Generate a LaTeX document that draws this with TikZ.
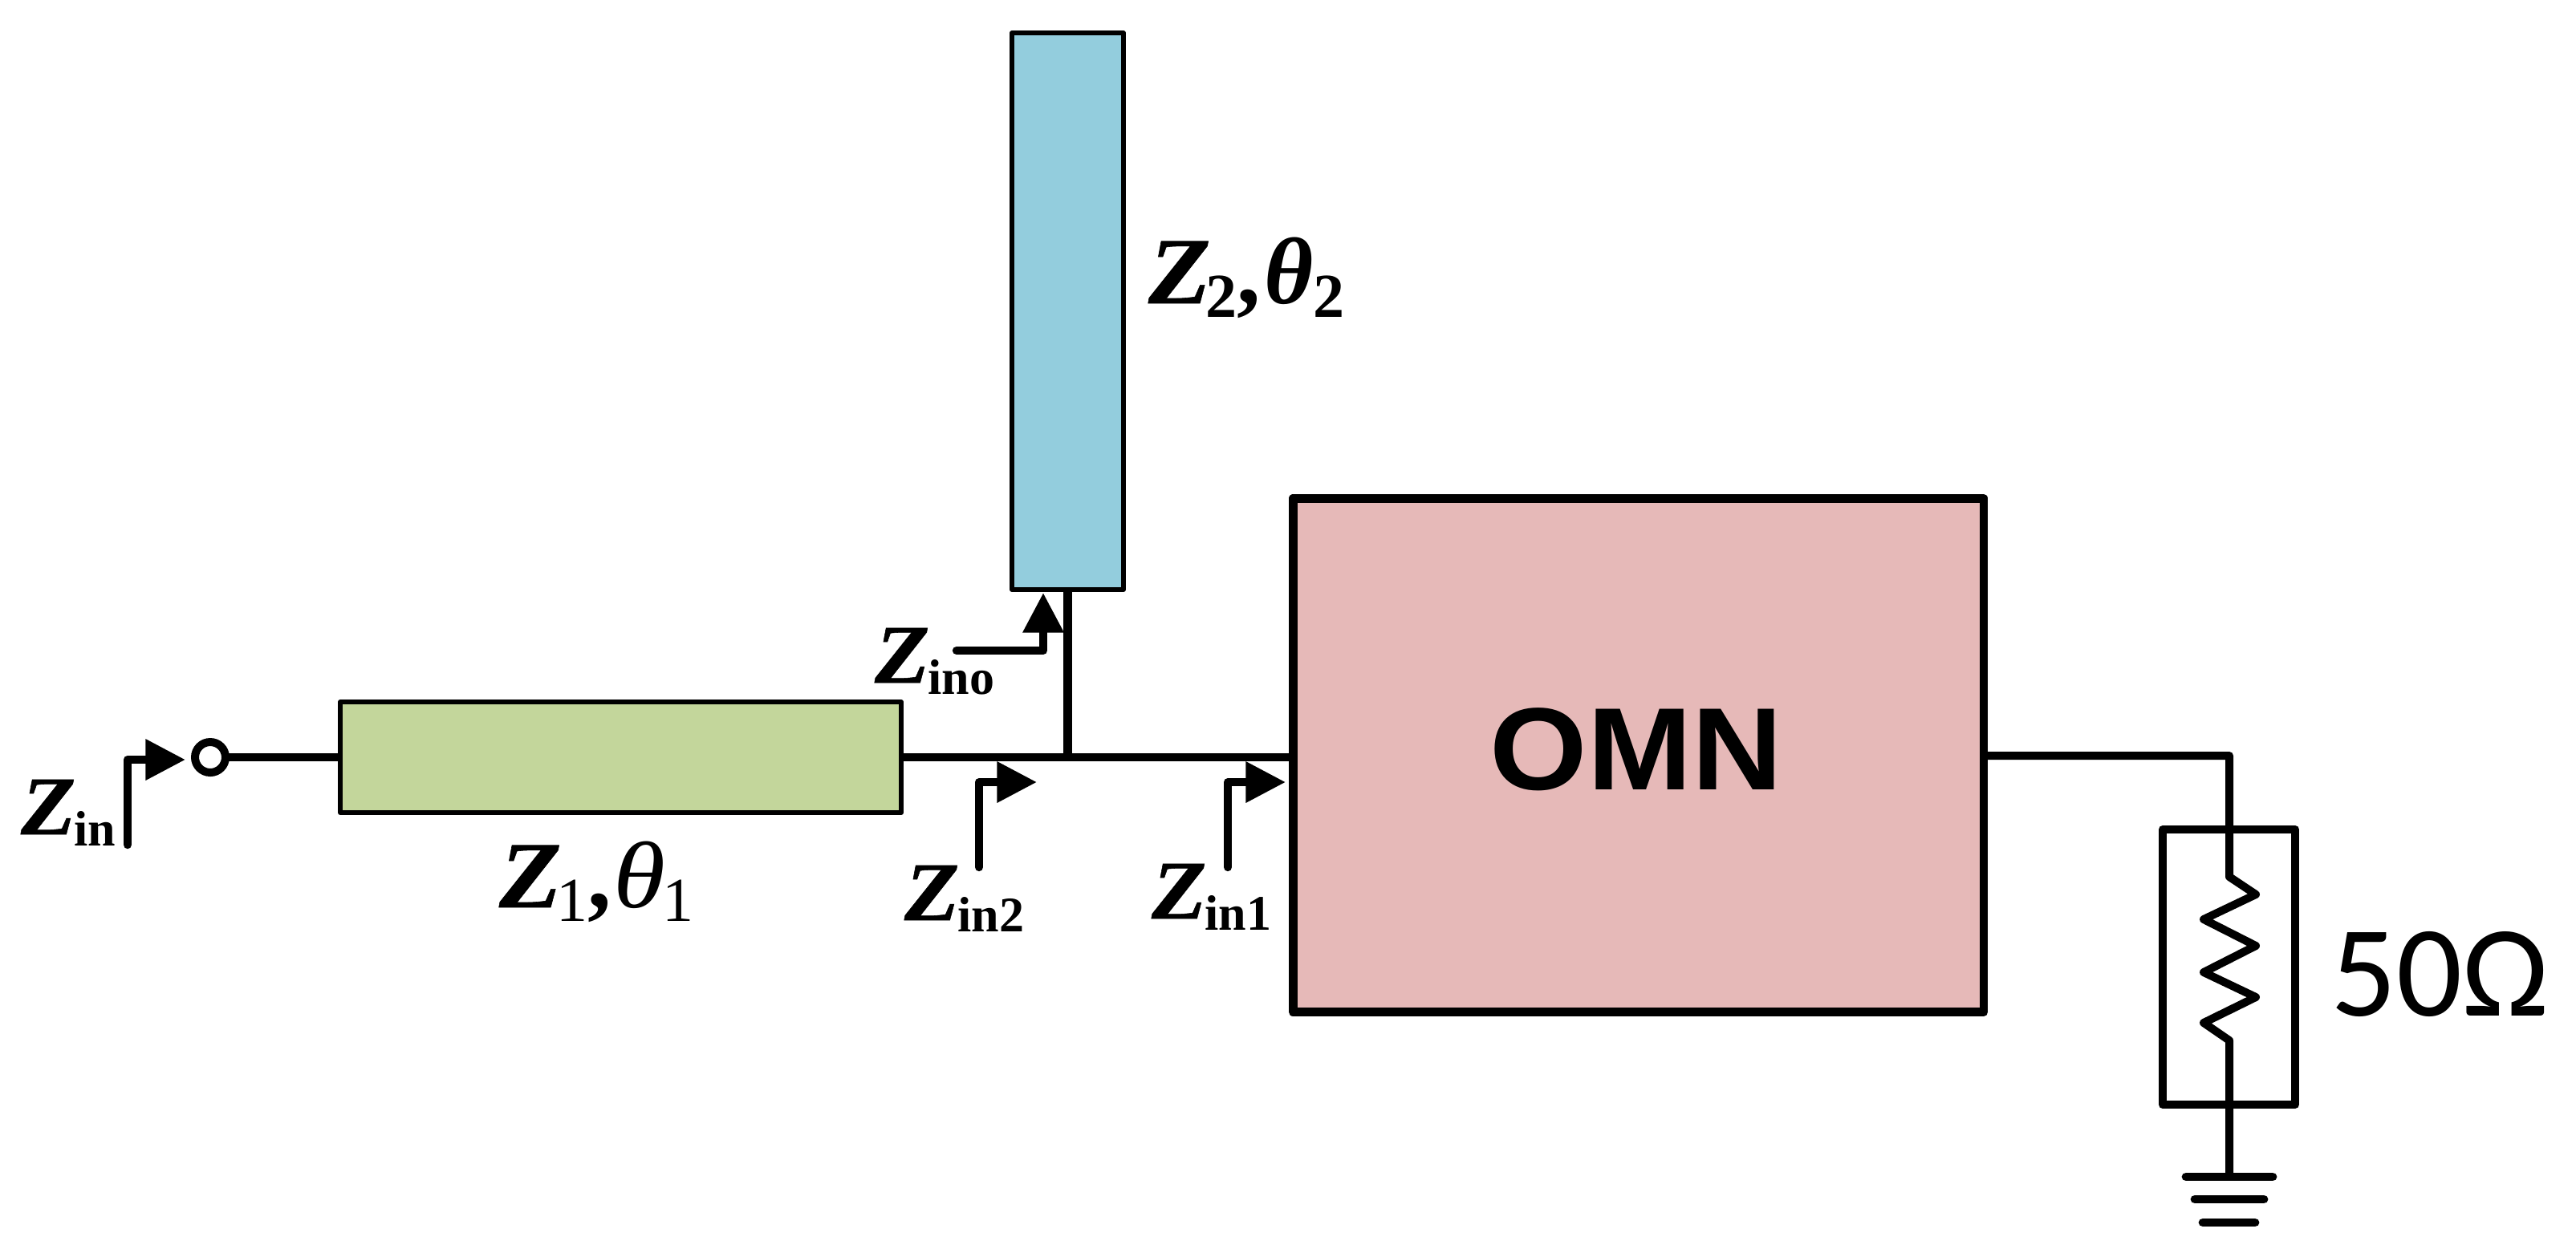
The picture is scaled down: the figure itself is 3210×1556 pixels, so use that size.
\documentclass[tikz,border=0pt]{standalone}
\usepackage{fontspec}
\usetikzlibrary{arrows.meta}
\setmainfont{Liberation Serif}
\newfontfamily\omnfont{Liberation Sans}[FakeStretch=1.07]
\newfontfamily\ohmfont{Carlito}
\newfontfamily\zface{Liberation Serif}[FakeStretch=1.08,FakeBold=0.5]
\newfontfamily\thface{Liberation Serif}[FakeStretch=1.12]
\definecolor{tlgreen}{HTML}{C3D69B}
\definecolor{tlblue}{HTML}{93CDDD}
\definecolor{omnpink}{HTML}{E6B9B8}
% 1 unit = 1 reference pixel = 0.25pt
\newcommand{\zin}[1]{{\zface\fontsize{26}{26}\selectfont\bfseries\itshape Z}\raisebox{-3.5pt}{\fontsize{15.5}{16}\selectfont\bfseries\kern-0.5pt #1}}
\newcommand{\tlineA}[2]{{\zface\bfseries\itshape\fontsize{29.5}{30}\selectfont Z}\kern-1.5pt\raisebox{-4.25pt}{\fontsize{19.5}{19}\selectfont #1}{\bfseries\fontsize{29.5}{30}\selectfont ,}\kern0.5pt{\thface\itshape\fontsize{29.5}{30}\selectfont θ}\kern-1pt\raisebox{-4.25pt}{\fontsize{19.5}{19}\selectfont #2}}
\newcommand{\tlineB}[2]{{\zface\bfseries\itshape\fontsize{29.5}{30}\selectfont Z}\kern-1.5pt\raisebox{-4.25pt}{\fontsize{19.5}{19}\selectfont\bfseries #1}{\bfseries\fontsize{29.5}{30}\selectfont ,}\kern1pt{\bfseries\itshape\fontsize{29.5}{30}\selectfont θ}\raisebox{-4.25pt}{\fontsize{19.5}{19}\selectfont\bfseries #2}}
\tikzset{
  block/.style={draw=black,line width=1.5pt,line join=round,outer sep=0pt,inner sep=0pt},
  wire/.style={draw=black,line width=2.6pt,line join=round},
  thinwire/.style={draw=black,line width=2.5pt,line join=round},
  probe/.style={draw=black,line width=2.6pt,line cap=round,line join=round,-{Triangle[length=12.4pt,width=12.2pt]}},
  lab/.style={anchor=base west,inner sep=0pt,outer sep=0pt},
  bar/.style={draw=black,line width=2.7pt,line cap=round},
}
\begin{document}
\begin{tikzpicture}[x=0.25pt,y=-0.25pt]
\useasboundingbox (0,0) rectangle (3210,1556);
% blocks
\node[block,fill=tlgreen,minimum width=174.75pt,minimum height=34.5pt] (tl1) at (773.5,944) {};
\node[block,fill=tlblue,minimum width=34.75pt,minimum height=173.5pt] (tl2) at (1330.5,388) {};
\node[block,fill=omnpink,line width=2.7pt,minimum width=215.2pt,minimum height=160.05pt] (omn) at (2041.6,941.4) {};
\node[anchor=base,inner sep=0pt] (omntxt) at (2039,984) {\omnfont\bfseries\fontsize{36.5}{37}\selectfont OMN};
\node[block,line width=2.6pt,minimum width=41.25pt,minimum height=85.75pt] (load) at (2777.5,1205.5) {};
% terminal
\node[draw=black,fill=white,circle,line width=2.5pt,minimum size=9.5pt,inner sep=0pt,outer sep=0pt] (term) at (262,944) {};
% coordinates
\coordinate (jn) at (1330.5,944);
\coordinate (omnin) at (omn.west |- jn);
\coordinate (outa) at (2472,942);
\coordinate (outb) at (2778,942);
\coordinate (r1) at (2778,1093);
\coordinate (r2) at (2811,1115);
\coordinate (r3) at (2746,1146);
\coordinate (r4) at (2811,1179);
\coordinate (r5) at (2746,1212);
\coordinate (r6) at (2811,1243);
\coordinate (r7) at (2746,1275);
\coordinate (r8) at (2778,1297);
\coordinate (gnd) at (2778,1467);
\coordinate (g1a) at (2724,1467); \coordinate (g1b) at (2832,1467);
\coordinate (g2a) at (2735,1495); \coordinate (g2b) at (2821,1495);
\coordinate (g3a) at (2745,1524); \coordinate (g3b) at (2810,1524);
\coordinate (pinS) at (159,1053); \coordinate (pinE) at (231,947);
\coordinate (p2S) at (1220,1081); \coordinate (p2E) at (1292,975);
\coordinate (p1S) at (1530,1081); \coordinate (p1E) at (1602,975);
\coordinate (p0S) at (1192,811);  \coordinate (p0E) at (1300,739);
% connectors
\draw[wire] (term) -- (tl1.west |- term);
\draw[wire] (tl1.east |- jn) -- (omnin);
\draw[wire] (jn) -- (tl2.south);
\draw[thinwire] (outa) -- (outb) -- (r1) -- (r2) -- (r3) -- (r4) -- (r5) -- (r6) -- (r7) -- (r8) -- (gnd);
\draw[bar] (g1a) -- (g1b);
\draw[bar] (g2a) -- (g2b);
\draw[bar] (g3a) -- (g3b);
% probes
\draw[probe] (pinS) |- (pinE);
\draw[probe] (p2S) |- (p2E);
\draw[probe] (p1S) |- (p1E);
\draw[probe] (p0S) -| (p0E);
% labels
\node[lab] (lzin)  at (26,1040)   {\zin{in}};
\node[lab] (lzino) at (1090,851)  {\zin{ino}};
\node[lab] (lzin2) at (1127,1147) {\zin{in2}};
\node[lab] (lzin1) at (1435,1145) {\zin{in1}};
\node[lab] (lz1)   at (622,1131)  {\tlineA{1}{1}};
\node[lab] (lz2)   at (1431,378)  {\tlineB{2}{2}};
\node[lab] (l50)   at (2904,1266) {\ohmfont\fontsize{40.5}{41}\selectfont 50Ω};
\end{tikzpicture}
\end{document}
